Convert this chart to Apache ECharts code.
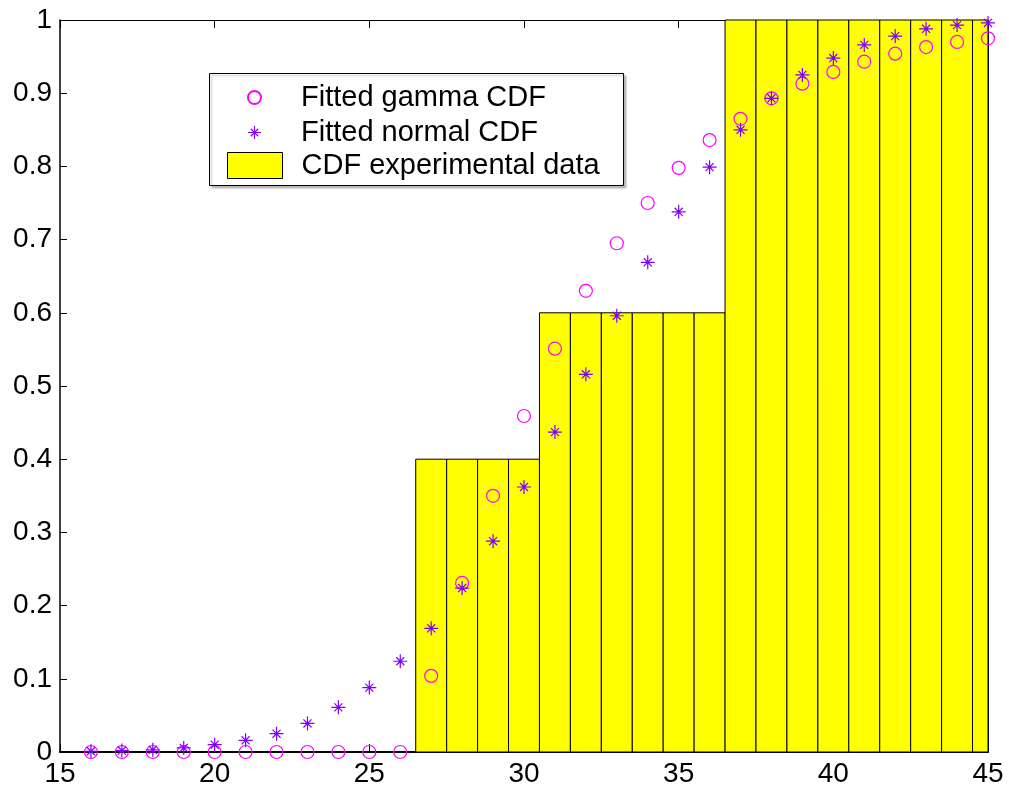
<!DOCTYPE html>
<html>
<head>
<meta charset="utf-8">
<script src="https://cdn.jsdelivr.net/npm/echarts@6/dist/echarts.min.js"></script>
<style>
  html, body { margin: 0; padding: 0; background: #fff; }
  #chart { width: 1009px; height: 793px; }
</style>
</head>
<body>
<div id="chart"></div>
<script>
// ---- data ----
const xValues = [16, 17, 18, 19, 20, 21, 22, 23, 24, 25, 26, 27, 28, 29, 30,
                 31, 32, 33, 34, 35, 36, 37, 38, 39, 40, 41, 42, 43, 44, 45];
const cdfExperimental = [0, 0, 0, 0, 0, 0, 0, 0, 0, 0, 0, 0.4, 0.4, 0.4, 0.4,
                         0.6, 0.6, 0.6, 0.6, 0.6, 0.6, 1, 1, 1, 1, 1, 1, 1, 1, 1];
const gammaCdf = [0, 0, 0, 0, 0, 0, 0, 0, 0, 0, 0, 0.104, 0.231, 0.350, 0.459,
                  0.551, 0.630, 0.695, 0.750, 0.798, 0.836, 0.865, 0.893, 0.913, 0.929,
                  0.943, 0.954, 0.963, 0.970, 0.975];
const normalCdf = [0.001, 0.002, 0.003, 0.0055, 0.010, 0.016, 0.025, 0.039, 0.061, 0.088,
                   0.124, 0.169, 0.224, 0.288, 0.362, 0.437, 0.516, 0.596, 0.669, 0.738,
                   0.799, 0.850, 0.893, 0.925, 0.948, 0.966, 0.978, 0.988, 0.993, 0.996];
const seriesNames = ['Fitted gamma CDF', 'Fitted normal CDF', 'CDF experimental data'];

const zip = (xs, ys) => xs.map((x, i) => [x, ys[i]]);

const FONT = 'Liberation Sans, Arial, Helvetica, sans-serif';
const asterisk = 'path://M6.4 0 H7.6 V14 H6.4 Z M0 6.4 H14 V7.6 H0 Z ' +
  'M2.55 3.4 L3.4 2.55 L11.45 10.6 L10.6 11.45 Z ' +
  'M10.6 2.55 L11.45 3.4 L3.4 11.45 L2.55 10.6 Z';

const chart = echarts.init(document.getElementById('chart'), null, { renderer: 'canvas' });

const axisLabelStyle = { color: '#000', fontFamily: FONT, fontSize: 28 };

chart.setOption({
  animation: false,
  backgroundColor: '#fff',
  grid: { left: 60, right: 21, top: 20, bottom: 41, containLabel: false },
  xAxis: [{
    type: 'value', min: 15, max: 45, interval: 5,
    axisLine: { show: true, onZero: false, lineStyle: { color: '#000', width: 2 } },
    axisTick: { show: true, inside: true, length: 8, lineStyle: { color: '#000', width: 1 } },
    axisLabel: Object.assign({ margin: 8 }, axisLabelStyle),
    splitLine: { show: false }
  }, {
    type: 'value', min: 15, max: 45, interval: 5, position: 'top',
    axisLine: { show: true, onZero: false, lineStyle: { color: '#000', width: 1 } },
    axisTick: { show: true, inside: true, length: 8, lineStyle: { color: '#000', width: 1 } },
    axisLabel: { show: false },
    splitLine: { show: false }
  }],
  yAxis: [{
    type: 'value', min: 0, max: 1, interval: 0.1,
    axisLine: { show: true, onZero: false, lineStyle: { color: '#000', width: 1.5 } },
    axisTick: { show: true, inside: true, length: 7, lineStyle: { color: '#000', width: 1 } },
    axisLabel: Object.assign({ margin: 8 }, axisLabelStyle),
    splitLine: { show: false }
  }, {
    type: 'value', min: 0, max: 1, interval: 0.1, position: 'right',
    axisLine: { show: true, onZero: false, lineStyle: { color: '#000', width: 1 } },
    axisTick: { show: true, inside: true, length: 7, lineStyle: { color: '#000', width: 1 } },
    axisLabel: { show: false },
    splitLine: { show: false }
  }],
  legend: [{
    data: [seriesNames[0], seriesNames[1]],
    orient: 'vertical',
    left: 247, top: 83,
    padding: 0,
    itemWidth: 55, itemHeight: 13, itemGap: 6,
    selectedMode: false,
    textStyle: { color: '#000', fontFamily: FONT, fontSize: 29, lineHeight: 28, padding: [0, 0, 0, 14] },
    z: 5
  }, {
    data: [{ name: seriesNames[2], icon: 'rect' }],
    orient: 'vertical',
    left: 227, top: 151,
    padding: 0,
    itemWidth: 55, itemHeight: 26,
    selectedMode: false,
    itemStyle: { color: '#ffff00', borderColor: '#000', borderWidth: 1 },
    textStyle: { color: '#000', fontFamily: FONT, fontSize: 29, lineHeight: 28, padding: [0, 0, 0, 14] },
    z: 5
  }],
  graphic: [{
    type: 'rect', left: 209, top: 73, z: 4,
    shape: { width: 414, height: 112 },
    style: { fill: '#fff', stroke: '#000', lineWidth: 1,
             shadowColor: 'rgba(0,0,0,0.25)', shadowOffsetX: 2, shadowOffsetY: 2, shadowBlur: 2 }
  }],
  series: [{
    name: seriesNames[2],
    type: 'custom',
    xAxisIndex: 0, yAxisIndex: 0,
    itemStyle: { color: '#ffff00', borderColor: '#000', borderWidth: 1 },
    data: zip(xValues, cdfExperimental),
    z: 2,
    renderItem: function (params, api) {
      const x = api.value(0), y = api.value(1);
      const tl = api.coord([x - 0.5, y]);
      const br = api.coord([x + 0.5, 0]);
      const rect = echarts.graphic.clipRectByRect(
        { x: tl[0], y: tl[1], width: br[0] - tl[0], height: br[1] - tl[1] },
        { x: params.coordSys.x, y: params.coordSys.y, width: params.coordSys.width, height: params.coordSys.height }
      );
      if (!rect) return null;
      return { type: 'rect', shape: rect, style: api.style({ fill: '#ffff00', stroke: '#000', lineWidth: 1 }) };
    }
  }, {
    name: seriesNames[0],
    type: 'scatter',
    data: zip(xValues, gammaCdf),
    symbol: 'circle', symbolSize: 13,
    itemStyle: { color: 'rgba(0,0,0,0)', borderColor: '#ff00ff', borderWidth: 1.2, opacity: 1 },
    z: 3
  }, {
    name: seriesNames[1],
    type: 'scatter',
    data: zip(xValues, normalCdf),
    symbol: asterisk, symbolSize: 14, symbolKeepAspect: true,
    itemStyle: { color: '#8000ff', opacity: 1 },
    z: 3
  }]
});
</script>
</body>
</html>
